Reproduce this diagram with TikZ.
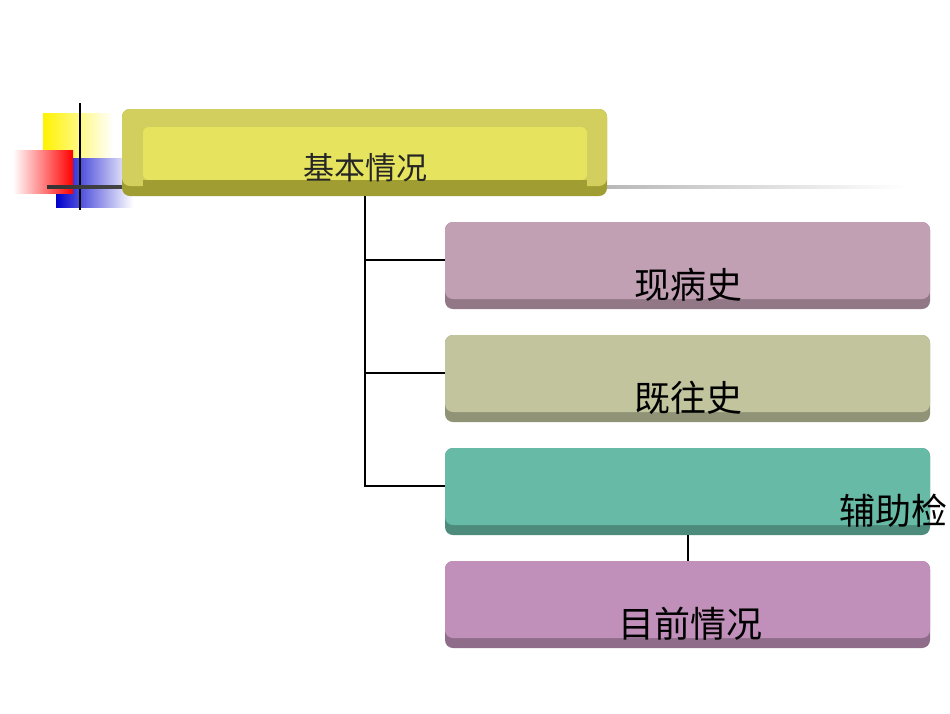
\documentclass[tikz,border=0pt]{standalone}
\usepackage{fontspec}
\newfontfamily\cjk{Noto Sans CJK SC}
\definecolor{topout}{HTML}{D2CF5E}
\definecolor{topin}{HTML}{E6E45E}
\definecolor{topbar}{HTML}{A09D32}
\begin{document}
\begin{tikzpicture}[x=1pt,y=-1pt,
  lbl/.style={font=\cjk\fontsize{36}{36}\selectfont, text=black},
  conn/.style={line width=2pt, black}]
\clip (0,0) rectangle (950,713);
\fill[white] (0,0) rectangle (950,713);
% decoration
\shade[left color=yellow!90!orange, right color=white] (43,113) rectangle (113,160);
\shade[left color=blue!80!black, right color=white] (56,158) rectangle (133,207);
\shade[left color=white, right color=red] (13,150) rectangle (73,193);
\draw[line width=1.5pt] (80,103) -- (80,210);
\shade[left color=black!80, right color=white] (47,185) rectangle (905,188);
% top box
\fill[topbar, rounded corners=8] (122,109) rectangle (607,196);
\fill[topout, rounded corners=8] (122,109) rectangle (607,186);
\fill[topin, rounded corners=6] (143,127) rectangle (587,180);
\fill[topbar] (143,180) rectangle (587,190);
\node[font=\cjk\fontsize{31}{31}\selectfont, text=black!85] (top) at (365,168) {基本情况};
\coordinate (t) at (365,196);
% boxes
\foreach \y/\c/\n in {222/C2A0B4/a,335/C1C49D/b,448/67BAA6/c,561/C090BA/d}{
  \definecolor{bc}{HTML}{\c}
  \fill[bc!75!black, rounded corners=8] (445,\y) rectangle (930,\y+87);
  \fill[bc, rounded corners=8] (445,\y) rectangle (930,\y+77);
  \coordinate (\n) at (445,\y+38);
}
\node[lbl] (ta) at (688,285) {现病史};
\node[lbl] (tb) at (688,398) {既往史};
\node[lbl] (tc) at (893,511) {辅助检};
\node[lbl] (td) at (690,624) {目前情况};
\draw[conn] (t) -- (365,487);
\draw[conn] (365,260) -- (a);
\draw[conn] (365,373) -- (b);
\draw[conn] (365,486) -- (c);
\draw[conn] (688,535) -- (688,561);
\end{tikzpicture}
\end{document}
